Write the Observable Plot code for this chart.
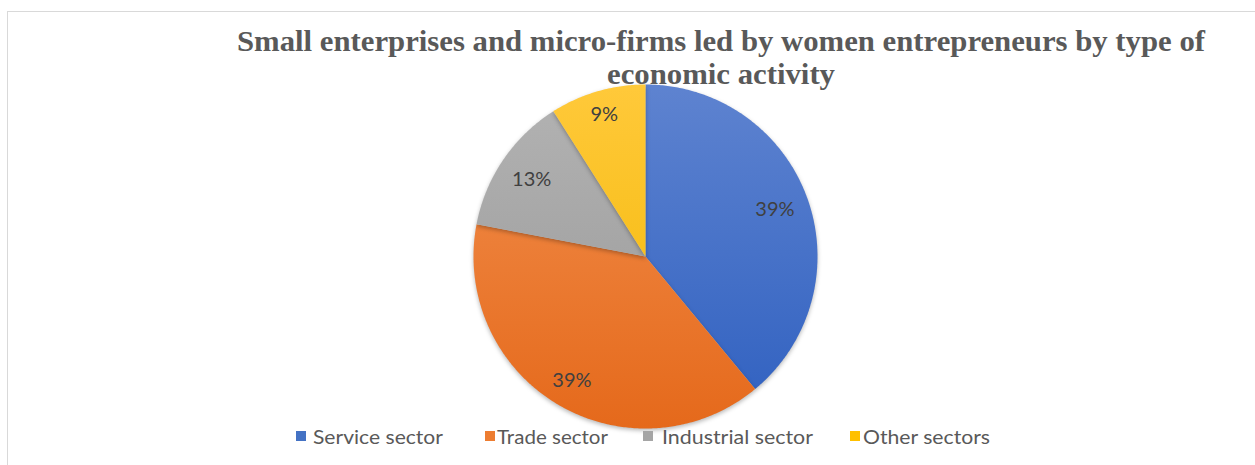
<!DOCTYPE html>
<html>
<head>
<meta charset="utf-8">
<script src="https://cdn.jsdelivr.net/npm/d3@7"></script>
<script src="https://cdn.jsdelivr.net/npm/@observablehq/plot@0.6"></script>
<style>
  html, body { margin: 0; padding: 0; background: #fff; }
  #wrap { position: relative; width: 1255px; height: 465px; overflow: hidden; background: #fff; }
  #frame { position: absolute; left: 7px; top: 11px; width: 1270px; height: 480px; border: 1px solid #d9d9d9; box-sizing: border-box; }
  #chart { position: absolute; left: 0; top: 0; }
  #overlay { position: absolute; left: 0; top: 0; pointer-events: none; }
</style>
</head>
<body>
<div id="wrap">
  <div id="frame"></div>
  <div id="chart"></div>
  <svg id="overlay" width="1255" height="465"></svg>
</div>
<script>
// ---- data ----
const categories = ["Service sector", "Trade sector", "Industrial sector", "Other sectors"];
const shares = [39, 39, 13, 9];
const valueLabels = ["39%", "39%", "13%", "9%"];
const titleLines = ["Small enterprises and micro-firms led by women entrepreneurs by type of", "economic activity"];

// ---- styles ----
const baseColors = ["#4472C4", "#ED7D31", "#A5A5A5", "#FFC000"];
const gradTop = ["#5E83D0", "#F2904F", "#B3B3B3", "#FFC93A"];
const gradBottom = ["#2F60C0", "#E5691B", "#979797", "#F2B600"];

const W = 1255, H = 465;
const cx = 645, cy = 256, R = 172;

// ---- pie geometry from data ----
const arcs = d3.pie().sort(null).value(d => d)(shares);
const slices = arcs.map((a, i) => {
  const pts = [{x: 0, y: 0}];
  const n = Math.max(2, Math.ceil((a.endAngle - a.startAngle) / 0.01));
  for (let k = 0; k <= n; k++) {
    const t = a.startAngle + (a.endAngle - a.startAngle) * k / n;
    pts.push({x: Math.sin(t), y: Math.cos(t)});
  }
  pts.push({x: 0, y: 0});
  return {i, name: categories[i], pts};
});
const labelR = [0.8, 0.84, 0.8, 0.86];
const labelData = arcs.map((a, i) => {
  const m = (a.startAngle + a.endAngle) / 2;
  return {x: labelR[i] * Math.sin(m), y: labelR[i] * Math.cos(m), text: valueLabels[i]};
});

const plot = Plot.plot({
  width: W,
  height: H,
  margin: 0,
  x: {domain: [-1, 1], range: [cx - R, cx + R], axis: null},
  y: {domain: [-1, 1], range: [cy + R, cy - R], axis: null},
  style: {background: "transparent", overflow: "visible"},
  marks: [
    ...slices.map(s => Plot.line(s.pts, {x: "x", y: "y", fill: `url(#grad${s.i})`, stroke: "none", curve: "linear"})),
    Plot.text(labelData, {x: "x", y: "y", text: "text", fill: "#404040", fontSize: 20, fontFamily: "Lato", textAnchor: "middle"})
  ]
});

// gradients
const ns = "http://www.w3.org/2000/svg";
const defs = document.createElementNS(ns, "defs");
baseColors.forEach((c, i) => {
  const g = document.createElementNS(ns, "linearGradient");
  g.setAttribute("id", "grad" + i);
  g.setAttribute("gradientUnits", "userSpaceOnUse");
  g.setAttribute("x1", 0); g.setAttribute("x2", 0);
  g.setAttribute("y1", cy - R); g.setAttribute("y2", cy + R);
  [[0, gradTop[i]], [1, gradBottom[i]]].forEach(([o, col]) => {
    const st = document.createElementNS(ns, "stop");
    st.setAttribute("offset", o);
    st.setAttribute("stop-color", col);
    g.appendChild(st);
  });
  defs.appendChild(g);
});
plot.insertBefore(defs, plot.firstChild);
plot.querySelectorAll('g[aria-label="line"]').forEach(g => {
  g.style.filter = "drop-shadow(0px 2px 2px rgba(0,0,0,0.28))";
});
document.getElementById("chart").appendChild(plot);

// ---- title + legend (text) ----
const ov = d3.select("#overlay");
const titleSpec = [
  {text: titleLines[0], x: 721, y: 51, len: 968},
  {text: titleLines[1], x: 721, y: 84, len: 228}
];
titleSpec.forEach(t => {
  ov.append("text")
    .attr("x", t.x).attr("y", t.y)
    .attr("text-anchor", "middle")
    .attr("font-family", "Liberation Serif, Times New Roman, serif")
    .attr("font-weight", "bold")
    .attr("font-size", 30)
    .attr("fill", "#595959")
    .attr("textLength", t.len)
    .attr("lengthAdjust", "spacingAndGlyphs")
    .text(t.text);
});

const legendPos = [
  {sx: 296, tx: 313, len: 130},
  {sx: 485, tx: 497, len: 111},
  {sx: 643, tx: 662, len: 151},
  {sx: 850, tx: 863, len: 127}
];
categories.forEach((c, i) => {
  const p = legendPos[i];
  ov.append("rect").attr("x", p.sx).attr("y", 431).attr("width", 10).attr("height", 10).attr("fill", baseColors[i]);
  ov.append("text")
    .attr("x", p.tx).attr("y", 444)
    .attr("font-family", "Lato, sans-serif")
    .attr("font-size", 19.5)
    .attr("fill", "#595959")
    .attr("textLength", p.len)
    .attr("lengthAdjust", "spacingAndGlyphs")
    .text(c);
});
</script>
</body>
</html>
